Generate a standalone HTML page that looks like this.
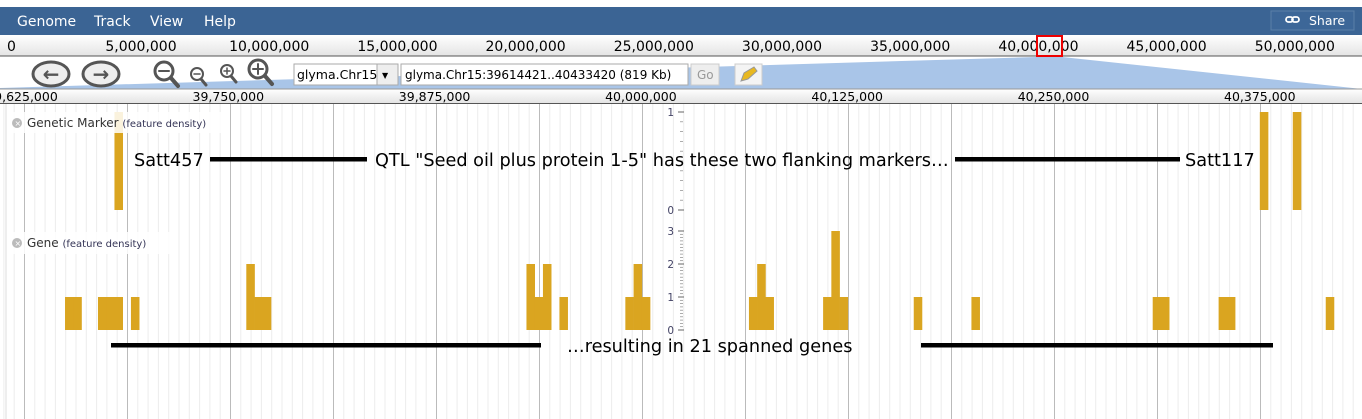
<!DOCTYPE html>
<html><head><meta charset="utf-8"><style>
body{margin:0;width:1362px;height:419px;overflow:hidden;background:#fff;font-family:"DejaVu Sans","Liberation Sans",sans-serif;}
svg{display:block}
</style></head><body>
<svg id="c" width="1362" height="419" xmlns="http://www.w3.org/2000/svg">
<rect x="0" y="104" width="1362" height="315" fill="#fff"/>
<g id="grid"></g>
<g id="bars"></g>
<line x1="6" y1="104" x2="6" y2="419" stroke="#ddd"/>
<rect x="0" y="7" width="1362" height="28" fill="#3b6494"/>
<g font-size="14" fill="#fff">
<text x="17" y="26">Genome</text>
<text x="94" y="26">Track</text>
<text x="150" y="26">View</text>
<text x="204" y="26">Help</text>
</g>
<g>
<rect x="1271" y="11" width="83" height="19" fill="#3d6798" stroke="#5a7fa8"/>
<rect x="1286" y="17" width="7" height="5" rx="2.5" fill="none" stroke="#fff" stroke-width="1.8"/>
<rect x="1292" y="17" width="7" height="5" rx="2.5" fill="none" stroke="#fff" stroke-width="1.8"/>
<text x="1309" y="25" font-size="12.5" fill="#fff">Share</text>
</g>
<defs><linearGradient id="g1" x1="0" y1="0" x2="0" y2="1"><stop offset="0" stop-color="#fff"/><stop offset="1" stop-color="#e4e4e4"/></linearGradient></defs>
<rect x="0" y="35" width="1362" height="21" fill="url(#g1)"/>
<line x1="0" y1="56" x2="1362" y2="56" stroke="#555"/>
<g id="ov" font-size="14" fill="#000"></g>
<rect x="1037" y="36" width="25" height="20" fill="none" stroke="#e00" stroke-width="2"/>
<polygon points="1037,57 1062,57 1362,89 0,89 0,88" fill="#a9c5e8"/>
<g><ellipse cx="51" cy="74" rx="18" ry="12" fill="#eee" stroke="#555" stroke-width="3"/><text x="51" y="81" font-size="20" text-anchor="middle" fill="#555" font-weight="bold">←</text></g>
<g><ellipse cx="101" cy="74" rx="18" ry="12" fill="#eee" stroke="#555" stroke-width="3"/><text x="101" y="81" font-size="20" text-anchor="middle" fill="#555" font-weight="bold">→</text></g>
<g stroke="#555" fill="none" stroke-linecap="round">
<g><circle cx="164" cy="71" r="9" stroke-width="3"/><line x1="171" y1="78" x2="178" y2="86" stroke-width="4"/><line x1="159" y1="71" x2="169" y2="71" stroke-width="2"/></g>
<g><circle cx="197" cy="74" r="6" stroke-width="2"/><line x1="201" y1="79" x2="206" y2="85" stroke-width="3"/><line x1="194" y1="74" x2="200" y2="74" stroke-width="1.5"/></g>
<g><circle cx="227" cy="71" r="6" stroke-width="2"/><line x1="231" y1="76" x2="236" y2="82" stroke-width="3"/><line x1="224" y1="71" x2="230" y2="71" stroke-width="1.5"/><line x1="227" y1="68" x2="227" y2="74" stroke-width="1.5"/></g>
<g><circle cx="258" cy="69" r="9" stroke-width="3"/><line x1="265" y1="76" x2="272" y2="84" stroke-width="4"/><line x1="253" y1="69" x2="263" y2="69" stroke-width="2"/><line x1="258" y1="64" x2="258" y2="74" stroke-width="2"/></g>
</g>
<g><rect x="294" y="64" width="104" height="21" fill="#fff" stroke="#aaa"/><rect x="377" y="64" width="21" height="21" fill="#eee" stroke="#aaa"/><text x="297" y="79" font-size="12.5">glyma.Chr15</text><text x="382" y="78" font-size="8">▼</text></g>
<g><rect x="401" y="64" width="287" height="21" fill="#fff" stroke="#aaa"/><text x="405" y="79" font-size="12">glyma.Chr15:39614421..40433420 (819 Kb)</text></g>
<g><rect x="691" y="64" width="28" height="21" fill="#eee" stroke="#ccc"/><text x="697" y="79" font-size="12" fill="#999">Go</text></g>
<g><rect x="735" y="64" width="27" height="21" fill="#f4f4f4" stroke="#ccc"/><path d="M741 81 L744 73 L754 67 L757 71 L748 79 Z" fill="#e8b820" stroke="#999"/></g>
<rect x="0" y="89" width="1362" height="14" fill="url(#g1)"/>
<line x1="0" y1="89" x2="1362" y2="89" stroke="#999"/>
<line x1="0" y1="103.5" x2="1362" y2="103.5" stroke="#555"/>
<g id="dr" font-size="12.5"></g>
<g><rect x="7" y="112" width="223" height="21" fill="#fff" fill-opacity="0.85"/><circle cx="17" cy="123" r="5" fill="#bbb"/><text x="14.5" y="126" font-size="8" fill="#fff">×</text><text x="27" y="127" font-size="12" fill="#333">Genetic Marker <tspan font-size="10" fill="#335">(feature density)</tspan></text></g>
<g><rect x="7" y="232" width="165" height="22" fill="#fff" fill-opacity="0.85"/><circle cx="17" cy="243" r="5" fill="#bbb"/><text x="14.5" y="246" font-size="8" fill="#fff">×</text><text x="27" y="247" font-size="12" fill="#333">Gene <tspan font-size="10" fill="#335">(feature density)</tspan></text></g>
<g id="axes" font-size="10.5" fill="#446"></g>
<g font-family="'DejaVu Sans',sans-serif" font-size="17.7" fill="#000">
<text x="134" y="166">Satt457</text>
<rect x="210" y="157" width="157" height="4.5"/>
<text x="375" y="166">QTL "Seed oil plus protein 1-5" has these two flanking markers…</text>
<rect x="955" y="157" width="225" height="4.5"/>
<text x="1185" y="166">Satt117</text>
<rect x="111" y="343" width="430" height="4.5"/>
<text x="567" y="352">…resulting in 21 spanned genes</text>
<rect x="921" y="343" width="352" height="4.5"/>
</g>
</svg>
<script>
const overviewTicks=["0","5,000,000","10,000,000","15,000,000","20,000,000","25,000,000","30,000,000","35,000,000","40,000,000","45,000,000","50,000,000"];
const detailTicks=["39,625,000","39,750,000","39,875,000","40,000,000","40,125,000","40,250,000","40,375,000"];
const geneBins=[8,9,12,13,14,16,30,31,32,64,65,66,68,76,77,78,91,92,93,100,101,102,111,118,140,141,148,149,161];
const geneValues=[1,1,1,1,1,1,2,1,1,2,1,2,1,1,2,1,1,2,1,1,3,1,1,1,1,1,1,1,1];
const markerBins=[14,153,157];
const markerValues=[1,1,1];
const geneTicks=[0,1,2,3];
const markerTicks=[0,1];
const NS="http://www.w3.org/2000/svg";
function mk(t,a,p){const e=document.createElementNS(NS,t);for(const k in a)e.setAttribute(k,a[k]);p.appendChild(e);return e;}
const BW=8.24, binX=i=>-0.9+i*BW;
const geneY=v=>330-v*33, markerY=v=>210-v*98;
const ov=document.getElementById('ov');
overviewTicks.forEach((t,i)=>{const e=mk('text',{x:i===0?7:141+(i-1)*128.2,y:51,'text-anchor':i===0?'start':'middle'},ov);e.textContent=t;

});
const grid=document.getElementById('grid');
for(let k=-3;k<=135;k++){const x=24.5+k*10.3;if(x<0||x>1362)continue;const maj=k%10===0;const l=mk('line',{x1:x,y1:104,x2:x,y2:419,stroke:maj?'#bbb':'#ececec'},grid);

}
const dr=document.getElementById('dr');
detailTicks.forEach((t,i)=>{const x=22+i*206.3;const e=mk('text',{x:x,y:101,'text-anchor':'middle'},dr);e.textContent=t;

});
const bars=document.getElementById('bars');
geneBins.forEach((b,i)=>{const y=geneY(geneValues[i]);const r=mk('rect',{x:binX(b),y:y,width:BW+0.3,height:330-y,fill:'#daa520'},bars);

});
markerBins.forEach((b,i)=>{const y=markerY(markerValues[i]);const r=mk('rect',{x:binX(b),y:y,width:BW+0.3,height:210-y,fill:'#daa520'},bars);

});
const ax=document.getElementById('axes');
function axis(ticks,yf,max){
for(let v=0;v<=max+1e-9;v+=0.1){const y=yf(v);const l=mk('line',{x1:680,y1:y,x2:683,y2:y,stroke:'#888','stroke-width':0.7},ax);

}
ticks.forEach(t=>{const y=yf(t);const l=mk('line',{x1:678,y1:y,x2:684,y2:y,stroke:'#666'},ax);


const e=mk('text',{x:674,y:y+4,'text-anchor':'end'},ax);e.textContent=t;

});}
axis(markerTicks,markerY,1);
axis(geneTicks,geneY,3);
</script>
</body></html>
